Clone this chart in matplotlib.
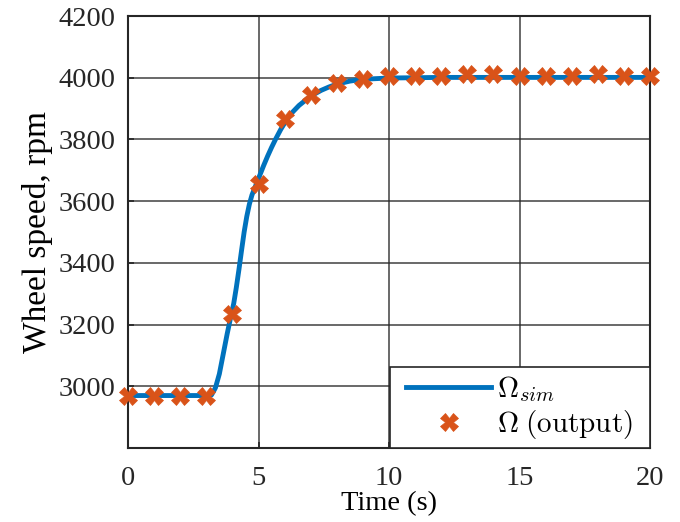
import matplotlib
matplotlib.use("Agg")
import matplotlib.pyplot as plt
from matplotlib.legend_handler import HandlerLine2D

# Simulated wheel speed curve
t_sim = [0, 1, 2, 3.0, 3.2, 3.35, 3.5, 3.65, 3.8, 3.95, 4.05, 4.15, 4.25, 4.35,
         4.45, 4.55, 4.65, 4.75, 4.9, 5.05, 5.2, 5.35, 5.5, 5.65, 5.85, 6.05,
         6.3, 6.55, 6.8, 7.1, 7.4, 7.7, 8.0, 8.5, 9.0, 10, 11, 12, 15, 20]
w_sim = [2970, 2970, 2970, 2970, 2972, 2995, 3040, 3105, 3170, 3230, 3268, 3320,
         3378, 3440, 3500, 3550, 3590, 3620, 3652, 3684, 3716, 3746, 3774, 3800,
         3832, 3860, 3888, 3910, 3927, 3945, 3959, 3970, 3979, 3989, 3995, 3999,
         4000, 4001, 4001, 4001]

# Output samples
t_out = list(range(0, 21))
w_out = [2970, 2970, 2970, 2970, 3233, 3656, 3865, 3943, 3984, 3997, 4004,
         4004, 4004, 4013, 4012, 4004, 4004, 4004, 4012, 4004, 4004]

xticks = [0, 5, 10, 15, 20]
yticks = [3000, 3200, 3400, 3600, 3800, 4000, 4200]

plt.rcParams['font.family'] = ['Liberation Serif', 'DejaVu Serif']
plt.rcParams['mathtext.fontset'] = 'cm'

fig = plt.figure(figsize=(6.8, 5.22), dpi=100)
ax = fig.add_axes([128/680, 1-448/522, (650-128)/680, (448-16)/522])

l1, = ax.plot(t_sim, w_sim, color='#0072BD', lw=3.5, label=r'$\Omega_{sim}$',
              zorder=3, solid_joinstyle='round')
l2, = ax.plot(t_out, w_out, ls='none', marker='X', ms=12.5, color='#D95319',
              markeredgecolor='#D95319', markeredgewidth=0.5,
              label=r'$\Omega$ $\mathrm{(output)}$  ', zorder=4, clip_on=False)

ax.set_xlim(0, 20)
ax.set_ylim(2800, 4200)
ax.set_xticks(xticks)
ax.set_yticks(yticks)
ax.grid(True, color='#262626', alpha=0.75, lw=1.3)
ax.tick_params(direction='in', length=4, width=1.2, colors='#262626',
               labelsize=20.5, top=False, right=False)
ax.tick_params(axis='x', pad=13)
ax.tick_params(axis='y', pad=9)
for s in ax.spines.values():
    s.set_color('#262626')
    s.set_linewidth(1.5)

ax.set_xlabel('Time (s)', fontsize=20.5, labelpad=0)
ax.set_ylabel('Wheel speed, rpm', fontsize=24, labelpad=4)

hm = {l1: HandlerLine2D(xpad=0.3), l2: HandlerLine2D(xpad=0.3)}
leg = ax.legend(loc='lower right', fontsize=21, frameon=True, fancybox=False,
                edgecolor='#262626', framealpha=1, borderaxespad=0,
                handlelength=3.2, handletextpad=0.2, labelspacing=0.12,
                borderpad=0.25, handler_map=hm)
leg.get_frame().set_linewidth(1.2)

fig.savefig('out.png', dpi=100)
